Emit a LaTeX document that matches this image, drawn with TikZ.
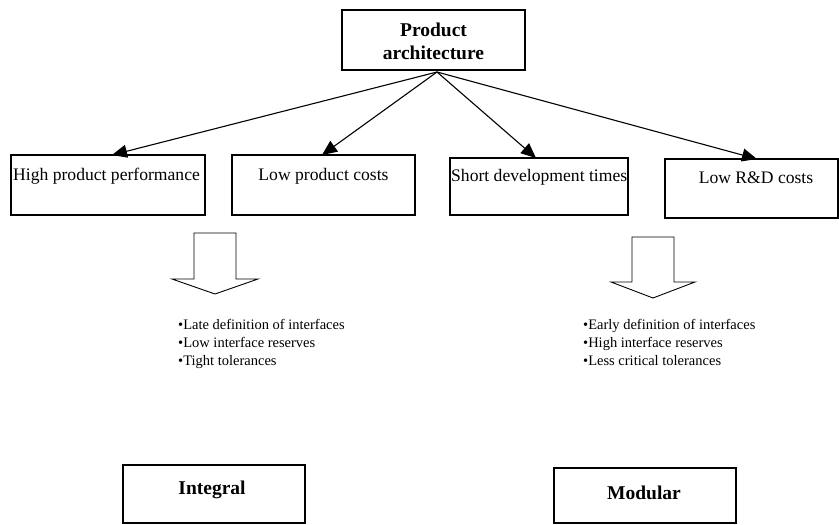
\documentclass[tikz,border=0pt]{standalone}
\usepackage{fontspec}
\setmainfont{Liberation Serif}
\usetikzlibrary{arrows.meta}
\begin{document}
\begin{tikzpicture}[x=1pt,y=-1pt,
  frame/.style={draw,line width=1.1pt},
  lbl/.style={font=\fontsize{17.6}{21}\selectfont,inner sep=0pt},
  head/.style={font=\bfseries\fontsize{19.5}{23}\selectfont,inner sep=0pt,align=center},
  feat/.style={-{Triangle[length=15pt,width=13pt]},line width=1.1pt},
  blockarrow/.style={draw,line width=0.9pt,fill=white},
  bul/.style={font=\fontsize{14.5}{18}\selectfont,inner sep=0pt,align=left,anchor=north west}]
\useasboundingbox (0,0) rectangle (839,525);

% top box
\draw[frame] (342,10) rectangle (525,70);
\node[head] (top) at (433.5,41) {Product\\architecture};
\coordinate (src) at (437,72);

% row of goal boxes
\draw[frame] (11,155) rectangle (205,215);
\draw[frame] (232,155) rectangle (415,215);
\draw[frame] (450,158) rectangle (628,215);
\draw[frame] (665,159) rectangle (838,218);
\node[lbl,anchor=west] (g1) at (13,176) {High product performance};
\node[lbl] (g2) at (323.5,176) {Low product costs};
\node[lbl,anchor=west] (g3) at (451,177) {Short development times};
\node[lbl] (g4) at (756,178) {Low R\&D costs};

\coordinate (t1) at (112,155);
\coordinate (t2) at (322,155);
\coordinate (t3) at (536,158);
\coordinate (t4) at (757,159);
\draw[feat] (src) -- (t1);
\draw[feat] (src) -- (t2);
\draw[feat] (src) -- (t3);
\draw[feat] (src) -- (t4);

% hollow block arrows
\draw[blockarrow] (194,233) -- (236,233) -- (236,279) -- (258,279) -- (215,294)
  -- (172,279) -- (194,279) -- cycle;
\draw[blockarrow] (632,237) -- (674,237) -- (674,282) -- (695,282) -- (653,298)
  -- (611,282) -- (632,282) -- cycle;

% characteristics
\node[bul] (c1) at (178,319) {•Late definition of interfaces\\•Low interface reserves\\•Tight tolerances};
\node[bul] (c2) at (583,319) {•Early definition of interfaces\\•High interface reserves\\•Less critical tolerances};

% resulting architectures
\draw[frame] (123,465) rectangle (305,523);
\draw[frame] (554,468) rectangle (736,523);
\node[head] (int) at (212,490) {Integral};
\node[head] (mod) at (644,493) {Modular};
\end{tikzpicture}
\end{document}
